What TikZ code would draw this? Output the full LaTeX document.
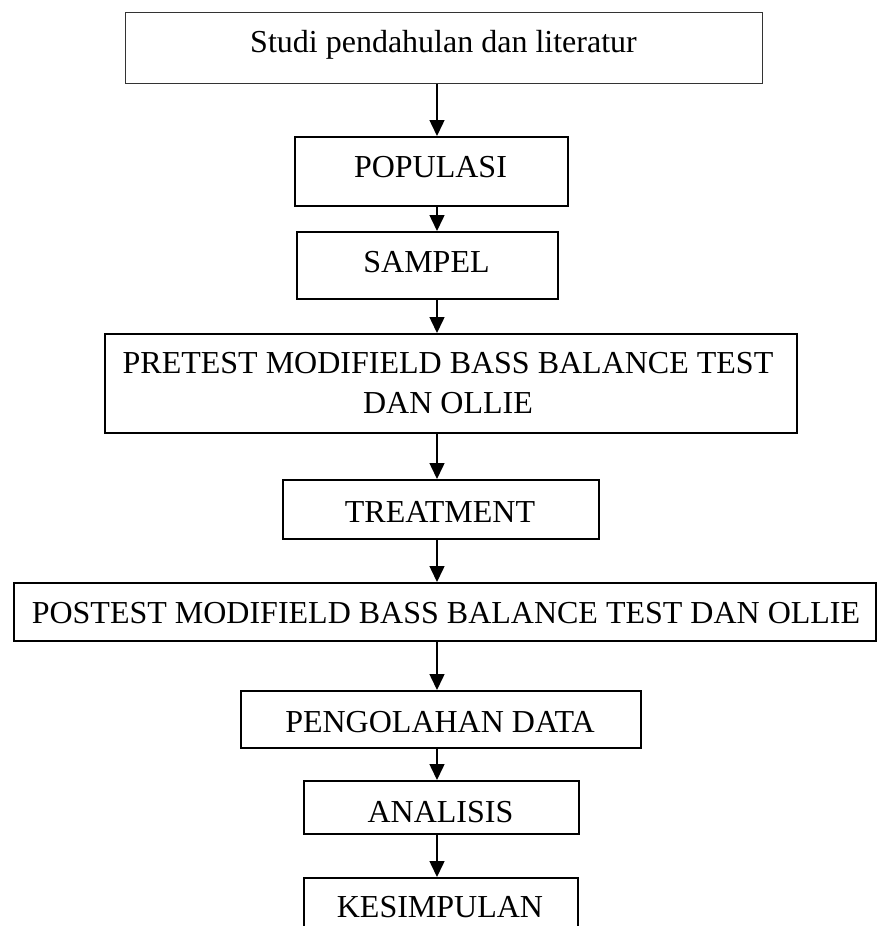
\documentclass[tikz,border=0pt]{standalone}
\usepackage{fontspec}
\setmainfont{Liberation Serif}
\usetikzlibrary{arrows.meta}
\begin{document}
\begin{tikzpicture}[x=1pt,y=-1pt,
  box/.style={draw=black, line width=1.7pt, inner sep=0pt, anchor=north west},
  thinbox/.style={box, draw=black!80, line width=1.2pt},
  txt/.style={anchor=base, inner sep=0pt, align=center, font=\fontsize{32}{40}\selectfont},
  arr/.style={line width=1.5pt, -{Triangle[length=16pt,width=15pt]}}]
\useasboundingbox (0,0) rectangle (880,926);
\coordinate (ax) at (437,0);
% boxes
\node[thinbox, minimum width=637pt, minimum height=71pt] (studi) at (125,12) {};
\node[box, minimum width=273pt, minimum height=69pt] (pop) at (294,136) {};
\node[box, minimum width=261pt, minimum height=67pt] (samp) at (296,231) {};
\node[box, minimum width=692pt, minimum height=99pt] (pre) at (104,333) {};
\node[box, minimum width=316pt, minimum height=59pt] (treat) at (282,479) {};
\node[box, minimum width=862pt, minimum height=58pt] (post) at (13,582) {};
\node[box, minimum width=400pt, minimum height=57pt] (peng) at (240,690) {};
\node[box, minimum width=275pt, minimum height=53pt] (anal) at (303,780) {};
\node[box, minimum width=274pt, minimum height=80pt] (kes) at (303,877) {};
% texts
\node[txt] (studit) at (443.5,52) {Studi pendahulan dan literatur};
\node[txt] (popt) at (430.5,177) {POPULASI};
\node[txt] (sampt) at (426.5,272) {SAMPEL};
\node[txt] (pret) at (448,413) {PRETEST MODIFIELD BASS BALANCE TEST\\DAN OLLIE};
\node[txt] (treatt) at (440,522) {TREATMENT};
\node[txt] (postt) at (446,623) {POSTEST MODIFIELD BASS BALANCE TEST DAN OLLIE};
\node[txt] (pengt) at (440,732) {PENGOLAHAN DATA};
\node[txt] (analt) at (440.5,822) {ANALISIS};
\node[txt] (kest) at (440,917) {KESIMPULAN};
% arrows
\draw[arr] (studi.south -| ax) -- (pop.north -| ax);
\draw[arr] (pop.south -| ax) -- (samp.north -| ax);
\draw[arr] (samp.south -| ax) -- (pre.north -| ax);
\draw[arr] (pre.south -| ax) -- (treat.north -| ax);
\draw[arr] (treat.south -| ax) -- (post.north -| ax);
\draw[arr] (post.south -| ax) -- (peng.north -| ax);
\draw[arr] (peng.south -| ax) -- (anal.north -| ax);
\draw[arr] (anal.south -| ax) -- (kes.north -| ax);
\end{tikzpicture}
\end{document}
